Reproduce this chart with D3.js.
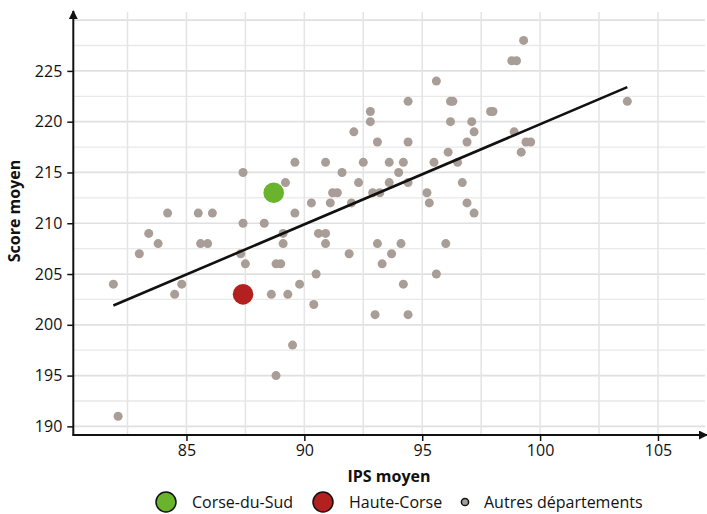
<!DOCTYPE html>
<html><head><meta charset="utf-8">
<script src="https://cdn.jsdelivr.net/npm/d3@7"></script>
<style>
html,body{margin:0;padding:0;background:#fff;}
text{font-family:"Open Sans",sans-serif;fill:#111;}
</style></head>
<body><svg id="c" width="707" height="514"></svg>
<script>
const ipsAutres = [99.3,98.8,99.0,103.7,97.9,98.0,97.1,97.2,96.9,98.9,99.4,99.6,99.2,95.6,96.2,96.3,94.4,96.2,92.8,92.8,92.1,93.1,94.4,96.1,87.4,89.6,90.9,91.6,92.5,93.6,94.2,94.0,95.5,96.5,89.2,92.3,93.6,94.4,96.7,91.2,91.4,92.9,93.2,95.2,90.3,91.1,92.0,95.3,96.9,89.6,97.2,87.4,88.3,89.1,90.6,90.9,89.1,90.9,93.1,94.1,96.0,87.3,91.9,93.7,87.5,88.8,89.0,93.3,90.5,95.6,89.8,94.2,88.6,89.3,90.4,93.0,94.4,89.5,88.8,82.1,81.9,83.0,83.4,83.8,84.2,84.5,84.8,85.5,86.1,85.6,85.9];
const scoreAutres = [228,226,226,222,221,221,220,219,218,219,218,218,217,224,222,222,222,220,221,220,219,218,218,217,215,216,216,215,216,216,216,215,216,216,214,214,214,214,214,213,213,213,213,213,212,212,212,212,212,211,211,210,210,209,209,209,208,208,208,208,208,207,207,207,206,206,206,206,205,205,204,204,203,203,202,201,201,198,195,191,204,207,209,208,211,203,204,211,211,208,208];
const corseDuSud = {ips: 88.7, score: 213};
const hauteCorse = {ips: 87.4, score: 203};
const trendIps = [81.9, 103.7];
const trendScore = [201.9, 223.4];
const xTicks = [85, 90, 95, 100, 105];
const yTicks = [190, 195, 200, 205, 210, 215, 220, 225];
const legendLabels = ["Corse-du-Sud", "Haute-Corse", "Autres départements"];

const FONT = "'Open Sans', sans-serif";
const FS = "16px";
const svg = d3.select("#c");
const x = d3.scaleLinear().domain([80.2, 107.05]).range([73.3, 706.3]);
const y = d3.scaleLinear().domain([189.15, 230.8]).range([435, 12]);
const x0 = x.range()[0], y0 = y.range()[0];

// grid
const xGrid = d3.range(82.5, 106, 2.5);
const yGrid = d3.range(190, 231, 2.5);
svg.append("g").selectAll("line").data(yGrid).join("line")
  .attr("x1", x0).attr("x2", 705).attr("y1", d => y(d)).attr("y2", d => y(d))
  .attr("stroke", d => d % 5 === 0 ? "#e0e0e0" : "#e9e9e9")
  .attr("stroke-width", d => d % 5 === 0 ? 1.7 : 1.3);
svg.append("g").selectAll("line").data(xGrid).join("line")
  .attr("y1", 12).attr("y2", y0).attr("x1", d => x(d)).attr("x2", d => x(d))
  .attr("stroke", "#e4e4e4").attr("stroke-width", 1.5);

// axes
const xAxis = d3.axisBottom(x).tickValues(xTicks).tickSize(6).tickSizeOuter(0).tickPadding(4);
const gx = svg.append("g").attr("transform", `translate(0,${y0})`).call(xAxis);
gx.select(".domain").remove();
gx.selectAll(".tick line").attr("stroke", "#111").attr("stroke-width", 1.5);
gx.selectAll(".tick text").style("font-size", FS).attr("fill", "#111").style("font-family", FONT);

const yAxis = d3.axisLeft(y).tickValues(yTicks).tickSize(6).tickSizeOuter(0).tickPadding(5);
const gy = svg.append("g").attr("transform", `translate(${x0},0)`).call(yAxis);
gy.select(".domain").remove();
gy.selectAll(".tick line").attr("stroke", "#111").attr("stroke-width", 1.5);
gy.selectAll(".tick text").style("font-size", FS).attr("fill", "#111").style("font-family", FONT);

const defs = svg.append("defs");
defs.append("marker").attr("id", "arr").attr("viewBox", "0 0 10 10").attr("refX", 9).attr("refY", 5)
  .attr("markerWidth", 4.5).attr("markerHeight", 4.5).attr("orient", "auto")
  .attr("markerUnits", "strokeWidth")
  .append("path").attr("d", "M0,0 L10,5 L0,10 z").attr("fill", "#111");
svg.append("line").attr("x1", x0).attr("x2", x0).attr("y1", y0 + 0.8).attr("y2", 11)
  .attr("stroke", "#111").attr("stroke-width", 2).attr("marker-end", "url(#arr)");
svg.append("line").attr("x1", x0 - 0.8).attr("x2", 707).attr("y1", y0).attr("y2", y0)
  .attr("stroke", "#111").attr("stroke-width", 2).attr("marker-end", "url(#arr)");

// points
svg.append("g").selectAll("circle").data(ipsAutres.map((v, i) => [v, scoreAutres[i]])).join("circle")
  .attr("cx", d => x(d[0])).attr("cy", d => y(d[1])).attr("r", 4.5).attr("fill", "#a99d97");

// trend
svg.append("line").attr("x1", x(trendIps[0])).attr("y1", y(trendScore[0]))
  .attr("x2", x(trendIps[1])).attr("y2", y(trendScore[1]))
  .attr("stroke", "#111").attr("stroke-width", 2.6);

svg.append("circle").attr("cx", x(corseDuSud.ips)).attr("cy", y(corseDuSud.score)).attr("r", 10.3).attr("fill", "#6ab42d");
svg.append("circle").attr("cx", x(hauteCorse.ips)).attr("cy", y(hauteCorse.score)).attr("r", 10.3).attr("fill", "#b2211f");

// axis titles
svg.append("text").attr("x", 389).attr("y", 482).attr("text-anchor", "middle")
  .style("font-size", FS).style("font-weight", "bold").text("IPS moyen");
svg.append("text").attr("transform", "translate(20,211) rotate(-90)").attr("text-anchor", "middle")
  .style("font-size", FS).style("font-weight", "bold").text("Score moyen");

// legend
const leg = [
  {cx: 166, r: 10, fill: "#6ab42d", tx: 192},
  {cx: 323, r: 10, fill: "#b2211f", tx: 349},
  {cx: 465, r: 3.6, fill: "#a99d97", tx: 484}
];
const lg = svg.append("g");
leg.forEach((d, i) => {
  lg.append("circle").attr("cx", d.cx).attr("cy", 502).attr("r", d.r).attr("fill", d.fill)
    .attr("stroke", "#111").attr("stroke-width", 1.5);
  lg.append("text").attr("x", d.tx).attr("y", 507.5).style("font-size", FS).text(legendLabels[i]);
});
</script></body></html>
